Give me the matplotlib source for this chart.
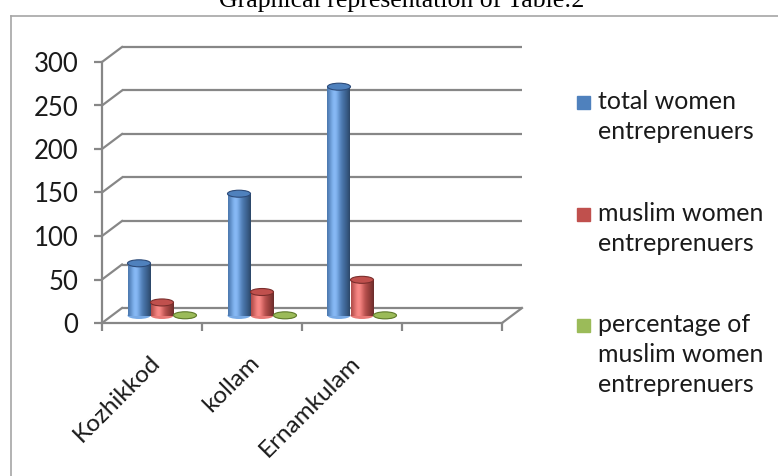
import matplotlib
matplotlib.use("Agg")
import matplotlib.pyplot as plt
import numpy as np
from matplotlib.lines import Line2D
from matplotlib.patches import Ellipse, Rectangle

# --- data ---
categories = ["Kozhikkod", "kollam", "Ernamkulam"]
series_labels = ["total women\nentreprenuers",
                 "muslim women\nentreprenuers",
                 "percentage of\nmuslim women\nentreprenuers"]
total_women = [60, 140, 263]
muslim_women = [15, 27, 41]
pct_muslim = [0.25, 0.19, 0.16]
yticks = [0, 50, 100, 150, 200, 250, 300]
n_slots = 4  # Excel chart keeps an empty 4th category slot

colors = ["#4F81BD", "#C0504D", "#9BBB59"]
edges = ["#2C4A78", "#7A2E2C", "#5E7A2C"]
GRID = "#878787"
FS = 18.5

plt.rcParams["font.family"] = ["Lato", "DejaVu Sans"]

W, H, DPI = 778, 476, 100
fig = plt.figure(figsize=(W / DPI, H / DPI), dpi=DPI)
ax = fig.add_axes([102 / W, 1 - 323 / H, 400 / W, 261 / H])
ax.set_xlim(0, n_slots)
ax.set_ylim(0, 300)

# depth offset of the back wall, in data units (20 px right, 15 px up)
DX = 20 / (400 / n_slots)
DY = 15 / (261 / 300)

# back wall gridlines + left diagonals
for t in yticks:
    ax.plot([DX, n_slots + DX], [t + DY, t + DY], color=GRID, lw=1.6,
            clip_on=False, solid_capstyle="butt", zorder=1)
    ax.plot([0, DX], [t, t + DY], color=GRID, lw=1.6, clip_on=False, zorder=1)
ax.plot([n_slots, n_slots + DX], [0, DY], color=GRID, lw=1.6, clip_on=False, zorder=1)

for s in ["top", "right"]:
    ax.spines[s].set_visible(False)
for s in ["left", "bottom"]:
    ax.spines[s].set_color(GRID)
    ax.spines[s].set_linewidth(1.6)
ax.set_yticks(yticks)
ax.set_yticklabels([str(t) for t in yticks])
ax.set_xticks(range(n_slots + 1))
ax.set_xticklabels([])
ax.tick_params(axis="y", length=6, width=1.6, color=GRID, pad=11,
               labelsize=FS, labelcolor="#1a1a1a")
ax.tick_params(axis="x", length=6, width=1.6, color=GRID)
ax.set_facecolor("none")

for j, cat in enumerate(categories):
    ax.annotate(cat, (j + 0.5, 0), xytext=(-3, -29), textcoords="offset pixels",
                rotation=45, rotation_mode="anchor", ha="right", va="top",
                fontsize=17.5, color="#1a1a1a", annotation_clip=False)


def shade_strip(hex_color, n=64):
    base = np.array(matplotlib.colors.to_rgb(hex_color))
    t = np.linspace(0, 1, n)
    hi = np.exp(-((t - 0.33) / 0.22) ** 2)
    dark = (np.abs(t - 0.33) / 0.67) ** 2
    rgb = base[None, :] * (1 - 0.45 * dark[:, None]) + hi[:, None] * 0.22
    return np.clip(rgb, 0, 1)[None, :, :]


width = 0.23
ell_h = 7 / (261 / 300)
for i, vals in enumerate([total_women, muslim_women, pct_muslim]):
    x = np.arange(len(categories)) + 0.5 + (i - 1) * width + DX / 2
    bars = ax.bar(x, vals, width=width, bottom=DY / 2, color=colors[i],
                  zorder=3, clip_on=False)
    strip = shade_strip(colors[i])
    for b, xc, v in zip(bars, x, vals):
        ax.add_patch(Ellipse((xc, DY / 2), width, ell_h, facecolor=strip[0, 28],
                             edgecolor="none", zorder=2.9, clip_on=False))
        im = ax.imshow(strip, extent=[xc - width / 2, xc + width / 2, DY / 2, DY / 2 + v],
                       aspect="auto", zorder=3.1, interpolation="bilinear")
        im.set_clip_path(b)
        ax.add_patch(Ellipse((xc, DY / 2 + v), width, ell_h, facecolor=colors[i],
                             edgecolor=edges[i], lw=0.8, zorder=3.3, clip_on=False))
ax.set_xlim(0, n_slots)
ax.set_ylim(0, 300)

# legend (manual, Excel style)
leg_tops = [90, 202, 313]
for i, lab in enumerate(series_labels):
    y_base = leg_tops[i] + 19
    fig.patches.append(Rectangle((577 / W, 1 - y_base / H), 13 / W, 13 / H,
                                 transform=fig.transFigure, color=colors[i]))
    fig.text(598 / W, 1 - leg_tops[i] / H, lab, ha="left", va="top",
             fontsize=18, color="#1a1a1a", linespacing=1.38)

# title (cut off at the top edge in the original)
fig.text(402 / W, 1 - 7 / H, "Graphical representation of Table:2",
         ha="center", va="baseline", fontsize=18.5, family=["Liberation Serif"])

# chart area border
fig.add_artist(Line2D([11 / W, 11 / W], [0, 1 - 16 / H], transform=fig.transFigure,
                      color="#a6a6a6", lw=1.2))
fig.add_artist(Line2D([11 / W, 1], [1 - 16 / H, 1 - 16 / H], transform=fig.transFigure,
                      color="#a6a6a6", lw=1.2))

fig.savefig("out.png", dpi=DPI)
